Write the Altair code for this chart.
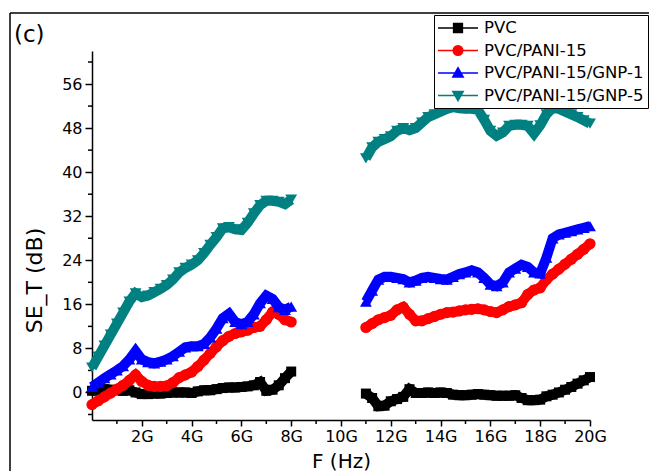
import altair as alt
import pandas as pd

SERIES = ["PVC", "PVC/PANI-15", "PVC/PANI-15/GNP-1", "PVC/PANI-15/GNP-5"]
COLORS = ["#000000", "#ff0000", "#0000ff", "#008080"]
SHAPES = ["square", "circle", "triangle-up", "triangle-down"]
MARK_SIZES = [100, 125, 140, 140]
LEGEND_PATHS = [
    "M-2.5,0H2.5M-0.55,-0.55H0.55V0.55H-0.55Z",
    "M-2.5,0H2.5M-0.6,0A0.6,0.6,0,1,1,0.6,0A0.6,0.6,0,1,1,-0.6,0Z",
    "M-2.5,0H2.5M-0.65,0.5H0.65L0,-0.65Z",
    "M-2.5,0H2.5M-0.65,-0.5H0.65L0,0.65Z",
]

FREQ_LOW = [i * 0.25 for i in range(33)]          # 0 ... 8 GHz
FREQ_HIGH = [11 + i * 0.25 for i in range(37)]    # 11 ... 20 GHz

PVC_LOW = [0.3, 0.5, 0.6, 0.5, 0.4, 0.3, 0.4, 0.0, -0.3, -0.3, -0.2, -0.2, -0.1, 0.0, 0.0, 0.0,
           -0.1, 0.2, 0.4, 0.4, 0.6, 0.8, 0.9, 0.9, 1.0, 1.1, 1.3, 1.9, 0.3, 0.5, 1.3, 2.6, 3.8]
PVC_HIGH = [-0.2, -1.0, -2.5, -2.4, -1.6, -1.2, -0.8, 0.6, -0.1, -0.1, 0.0, -0.1, 0.0, -0.1, -0.4,
            -0.5, -0.5, -0.4, -0.3, -0.4, -0.5, -0.6, -0.6, -0.6, -0.5, -1.0, -1.4, -1.4, -1.3,
            -0.7, -0.4, 0.0, 0.5, 1.0, 1.6, 2.2, 2.8]

PANI_LOW = [-2.2, -1.5, -0.8, -0.1, 0.6, 1.3, 2.2, 3.2, 2.0, 1.3, 1.1, 1.1, 1.2, 1.8, 2.7, 3.2,
            3.7, 4.7, 5.9, 7.1, 8.3, 9.4, 10.2, 10.7, 11.0, 11.3, 11.8, 12.0, 13.2, 14.6, 14.2,
            13.2, 12.8]
PANI_HIGH = [11.8, 12.5, 13.2, 13.6, 14.0, 15.0, 15.5, 14.2, 13.0, 13.0, 13.4, 13.8, 14.2, 14.5,
             14.6, 14.8, 15.0, 15.1, 15.2, 15.0, 14.7, 14.5, 15.0, 15.6, 15.9, 16.3, 17.8, 18.6,
             19.0, 20.5, 21.5, 22.4, 23.3, 24.2, 25.1, 26.0, 27.0]

GNP1_LOW = [1.0, 1.8, 2.6, 3.3, 4.0, 4.8, 6.0, 7.5, 6.0, 5.5, 5.3, 5.6, 6.0, 6.6, 7.4, 8.2, 8.4,
            8.4, 8.8, 10.0, 11.6, 13.5, 14.3, 12.8, 12.4, 12.8, 14.2, 16.2, 17.6, 17.0, 15.5,
            15.0, 15.6]
GNP1_HIGH = [16.5, 18.5, 20.5, 21.0, 21.0, 20.8, 20.6, 20.0, 20.3, 20.8, 21.0, 20.8, 20.6, 20.5,
             21.0, 21.5, 21.8, 22.2, 21.8, 20.8, 19.6, 19.3, 20.0, 21.8, 22.5, 23.2, 22.8, 21.8,
             21.6, 24.5, 28.0, 28.7, 29.0, 29.3, 29.6, 29.9, 30.2]

GNP5_LOW = [4.5, 6.5, 8.5, 10.5, 12.5, 14.5, 16.5, 18.0, 17.3, 17.6, 18.2, 18.8, 19.5, 20.5, 21.8,
            22.6, 23.2, 24.0, 25.3, 26.8, 28.2, 29.8, 30.0, 29.6, 29.5, 30.8, 32.5, 34.0, 34.8,
            34.8, 34.6, 34.2, 35.0]
GNP5_HIGH = [42.5, 44.5, 45.5, 46.0, 46.5, 47.5, 48.0, 47.6, 48.0, 49.0, 50.0, 50.5, 51.0, 51.5,
             51.8, 51.6, 51.5, 51.5, 51.3, 49.5, 47.5, 46.6, 47.2, 48.4, 48.6, 48.6, 48.4, 47.0,
             48.5, 50.5, 51.7, 51.5, 51.0, 50.5, 50.0, 49.4, 48.8]

LOWS = [PVC_LOW, PANI_LOW, GNP1_LOW, GNP5_LOW]
HIGHS = [PVC_HIGH, PANI_HIGH, GNP1_HIGH, GNP5_HIGH]

X_TICKS = [2, 4, 6, 8, 10, 12, 14, 16, 18, 20]
X_MINOR = [1, 3, 5, 7, 9, 11, 13, 15, 17, 19]
Y_TICKS = [0, 8, 16, 24, 32, 40, 48, 56]
Y_MINOR = [-4, 4, 12, 20, 28, 36, 44, 52, 60]

W, H = 498, 369
FONT = "DejaVu Sans"

xscale = alt.Scale(domain=[0, 20], nice=False, zero=False)
yscale = alt.Scale(domain=[-5, 62], nice=False, zero=False)

XAX = alt.Axis(values=X_TICKS, labelExpr="datum.value + 'G'", title="F (Hz)", tickSize=6,
               labelPadding=2, titlePadding=7, grid=False, labelFlush=False, labelOverlap=False)
YAX = alt.Axis(values=Y_TICKS, title="SE_T (dB)", tickSize=7, labelPadding=3, grid=False,
               titleX=-46, titleY=229, titleFontSize=22, labelOverlap=False)

X = lambda f: alt.X(f, type="quantitative", scale=xscale, axis=XAX)
Y = lambda f: alt.Y(f, type="quantitative", scale=yscale, axis=YAX)

layers = []

# outer frame
layers.append(alt.Chart(pd.DataFrame({"a": [0]})).mark_rule(color="black", strokeWidth=1.5).encode(
    x=alt.value(-82), x2=alt.value(W + 80), y=alt.value(-38)))
layers.append(alt.Chart(pd.DataFrame({"a": [0]})).mark_rule(color="black", strokeWidth=1.5).encode(
    x=alt.value(-82), y=alt.value(-38), y2=alt.value(H + 80)))

# minor ticks
layers.append(alt.Chart(pd.DataFrame({"f": X_MINOR})).mark_rule(color="black", strokeWidth=1.5).encode(
    x=X("f"), y=alt.value(H), y2=alt.value(H + 4)))
layers.append(alt.Chart(pd.DataFrame({"v": Y_MINOR})).mark_rule(color="black", strokeWidth=1.5).encode(
    y=Y("v"), x=alt.value(-4), x2=alt.value(0)))

for name, col, shp, sz, lo, hi in zip(SERIES, COLORS, SHAPES, MARK_SIZES, LOWS, HIGHS):
    df = pd.DataFrame({
        "f": FREQ_LOW + FREQ_HIGH,
        "v": lo + hi,
        "seg": ["a"] * len(lo) + ["b"] * len(hi),
    })
    base = alt.Chart(df)
    layers.append(base.mark_line(color=col, strokeWidth=10).encode(
        x=X("f"), y=Y("v"), detail="seg:N"))
    layers.append(base.mark_point(color=col, filled=True, shape=shp, size=sz, opacity=1).encode(
        x=X("f"), y=Y("v")))

LEG = alt.Legend(title=None, orient="none", legendX=342, legendY=-36, padding=4,
                 strokeColor="black", fillColor="white", labelFont=FONT, labelFontSize=16.5,
                 labelColor="black", symbolSize=256, symbolStrokeWidth=1.5, symbolOffset=11,
                 labelOffset=17, rowPadding=4.5, cornerRadius=0, symbolOpacity=1)
legend_df = pd.DataFrame({"series": SERIES})
layers.append(alt.Chart(legend_df).mark_point(filled=True, size=0, strokeWidth=0).encode(
    fill=alt.Fill("series:N", scale=alt.Scale(domain=SERIES, range=COLORS), legend=LEG),
    stroke=alt.Stroke("series:N", scale=alt.Scale(domain=SERIES, range=COLORS), legend=LEG),
    shape=alt.Shape("series:N", scale=alt.Scale(domain=SERIES, range=LEGEND_PATHS), legend=LEG),
))

layers.append(alt.Chart(pd.DataFrame({"a": [0]})).mark_text(
    text="(c)", align="left", baseline="alphabetic", font=FONT, fontSize=23, color="black").encode(
    x=alt.value(-78), y=alt.value(-9)))

chart = alt.layer(*layers).properties(
    width=W, height=H,
    padding={"left": 92, "top": 51, "right": 59, "bottom": 51},
    autosize=alt.AutoSizeParams(type="none"),
).configure_view(stroke=None).configure_axis(
    labelFont=FONT, labelFontSize=16, labelColor="black",
    titleFont=FONT, titleFontSize=20, titleFontWeight="normal", titleColor="black",
    domainColor="black", domainWidth=1.5, tickColor="black", tickWidth=1.5,
)

chart.save("out.html", embed_options={"renderer": "svg", "actions": False})
